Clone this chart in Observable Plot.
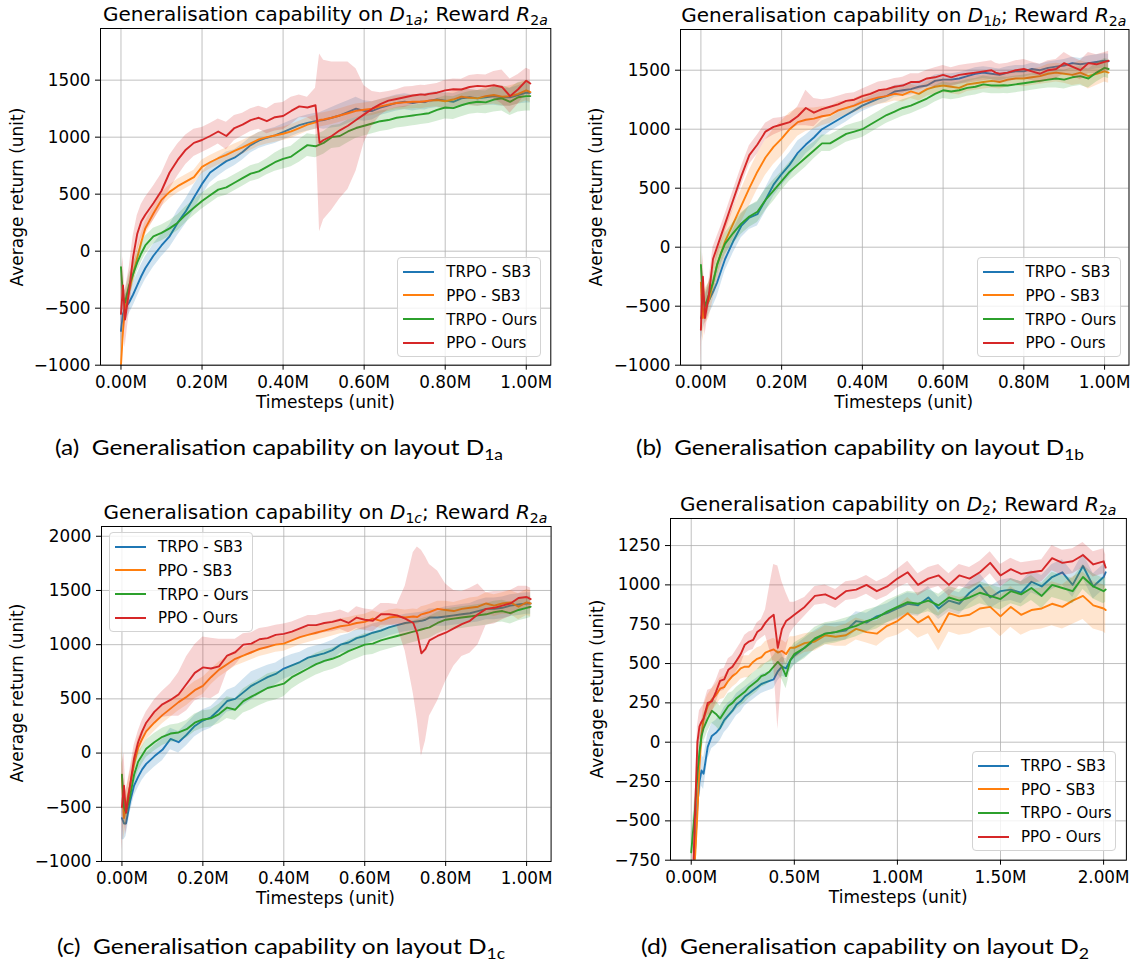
<!DOCTYPE html>
<html><head><meta charset="utf-8">
<script src="https://cdn.jsdelivr.net/npm/d3@7"></script>
<script src="https://cdn.jsdelivr.net/npm/@observablehq/plot@0.6"></script>
<style>
body{margin:0;background:#fff;}
#root{position:relative;width:1141px;height:963px;overflow:hidden;background:#fff;font-family:"DejaVu Sans",sans-serif;color:#000;}
.abs{position:absolute;white-space:nowrap;line-height:1;}
.ptitle{font-size:20px;transform:translate(-50%,-50%);}
.ptitle sub{font-size:14px;vertical-align:-4px;line-height:0;}
.xlab{font-size:17px;transform:translate(-50%,-50%);}
.ylab{font-size:17px;transform:translate(-50%,-50%) rotate(-90deg);}
.legend{border:1px solid #d3d3d3;border-radius:4px;background:rgba(255,255,255,0.8);box-sizing:border-box;}
.lgline{position:absolute;height:2px;width:31px;}
.lgtext{position:absolute;font-size:15px;transform:translateY(-50%);line-height:1;white-space:nowrap;}
.cap{font-family:Lato,"Noto Sans",sans-serif;font-size:21px;transform-origin:0 50%;}
.cap sub{font-size:15px;vertical-align:-5px;line-height:0;}
</style></head>
<body><div id="root"></div>
<script>
// ---------- series ----------
const seriesNames = ["TRPO - SB3", "PPO - SB3", "TRPO - Ours", "PPO - Ours"];
const seriesColors = ["#1f77b4", "#ff7f0e", "#2ca02c", "#d62728"];

// ---------- x values (millions of timesteps) ----------
const xABC = [0, 0.005, 0.01, 0.02, 0.03, 0.04, 0.05, 0.06,
 0.08, 0.10, 0.12, 0.14, 0.16, 0.18, 0.20, 0.22, 0.24, 0.26, 0.28, 0.30, 0.32, 0.34, 0.36, 0.38, 0.40, 0.42, 0.44, 0.46, 0.48,
 0.49,
 0.50, 0.52, 0.54, 0.56, 0.58, 0.60, 0.62, 0.64, 0.66, 0.68, 0.70, 0.72,
 0.73, 0.74, 0.75,
 0.76, 0.78, 0.80, 0.82, 0.84, 0.86, 0.88, 0.90, 0.92, 0.94, 0.96, 0.98, 1.00,
 1.01];
const xD = [0, 0.01, 0.02, 0.03, 0.04, 0.05, 0.06,
 0.08, 0.10, 0.12, 0.14, 0.16, 0.18, 0.20, 0.22, 0.24, 0.26, 0.28, 0.30, 0.32, 0.34, 0.36, 0.38, 0.40, 0.42, 0.44, 0.46, 0.48, 0.50,
 0.55, 0.60, 0.65, 0.70, 0.75, 0.80, 0.85, 0.90, 0.95, 1.00, 1.05, 1.10, 1.15, 1.20, 1.25, 1.30, 1.35, 1.40, 1.45, 1.50, 1.55, 1.60, 1.65, 1.70, 1.75, 1.80, 1.85, 1.90, 1.95, 2.00,
 2.01];

// ---------- panel (a): D1a ----------
const a_trpoSB3 = [-700, -550, -500, -450, -380, -300, -220, -150,
 -40, 50, 130, 250, 350, 470, 590, 690, 740, 790, 820, 870, 930, 970, 995, 1015, 1045, 1075, 1105, 1125, 1140,
 1145,
 1150, 1170, 1190, 1220, 1250, 1230, 1230, 1260, 1280, 1300, 1310, 1300,
 1305, 1310, 1308,
 1320, 1330, 1320, 1310, 1340, 1350, 1340, 1350, 1360, 1350, 1350, 1370, 1390,
 1390];
const a_trpoSB3_sd = [200, 150, 120, 100, 100, 100, 100, 100,
 100, 100, 100, 110, 110, 110, 100, 90, 80, 80, 70, 70, 70, 70, 70, 70, 70, 70, 70, 70, 70,
 70,
 80, 90, 100, 100, 100, 90, 80, 70, 70, 70, 70, 70,
 70, 70, 70,
 70, 70, 70, 70, 70, 70, 70, 70, 80, 80, 80, 80, 90,
 90];
const a_ppoSB3 = [-1000, -700, -500, -350, -200, -60, 80, 200,
 330, 450, 520, 570, 610, 650, 740, 780, 815, 845, 880, 910, 945, 980, 1000, 1015, 1030, 1050, 1080, 1110, 1130,
 1150,
 1155, 1170, 1190, 1210, 1230, 1240, 1250, 1270, 1285, 1300, 1305, 1310,
 1312, 1310, 1315,
 1320, 1326, 1315, 1330, 1355, 1345, 1340, 1360, 1370, 1355, 1360, 1380, 1410,
 1395];
const a_ppoSB3_sd = [150, 120, 100, 100, 90, 80, 70, 60,
 60, 60, 60, 60, 60, 60, 60, 60, 60, 60, 60, 60, 60, 60, 60, 60, 60, 60, 60, 60, 60,
 60,
 60, 60, 60, 60, 60, 60, 60, 60, 60, 60, 60, 60,
 60, 60, 60,
 60, 60, 70, 70, 70, 70, 70, 80, 80, 80, 90, 90, 90,
 90];
const a_trpoOurs = [-140, -400, -450, -300, -200, -100, -20, 50,
 130, 160, 200, 250, 320, 380, 440, 490, 540, 560, 600, 640, 680, 700, 740, 780, 810, 830, 880, 930, 920,
 935,
 950, 1000, 1010, 1050, 1080, 1100, 1120, 1140, 1150, 1170, 1180, 1190,
 1195, 1200, 1205,
 1210, 1240, 1260, 1255, 1280, 1300, 1310, 1305, 1330, 1340, 1310, 1350, 1360,
 1360];
const a_trpoOurs_sd = [150, 120, 100, 100, 90, 80, 80, 80,
 70, 70, 70, 70, 70, 70, 70, 70, 70, 70, 70, 70, 70, 70, 70, 80, 90, 90, 100, 100, 100,
 100,
 100, 100, 100, 100, 90, 90, 90, 90, 90, 90, 90, 90,
 90, 90, 90,
 90, 100, 100, 100, 100, 100, 100, 100, 110, 110, 120, 130, 130,
 130];
const a_ppoOurs = [-550, -300, -600, -350, -50, 150, 260, 320,
 420, 530, 690, 800, 890, 950, 975, 1010, 1050, 1010, 1080, 1110, 1150, 1170, 1140, 1175, 1185, 1230, 1270, 1260, 1280,
 950,
 975, 1010, 1060, 1100, 1150, 1200, 1250, 1290, 1320, 1335, 1350, 1365,
 1370, 1375, 1372,
 1380, 1390, 1410, 1420, 1418, 1440, 1450, 1445, 1455, 1440, 1360, 1420, 1495,
 1470];
const a_ppoOurs_sd = [300, 250, 250, 200, 180, 160, 150, 150,
 150, 150, 150, 140, 130, 120, 110, 110, 110, 120, 110, 100, 100, 100, 110, 120, 120, 120, 100, 90, 150,
 780,
 700, 650, 600, 560, 450, 250, 150, 100, 80, 80, 90, 80,
 80, 80, 80,
 80, 80, 90, 90, 90, 100, 100, 100, 120, 150, 150, 130, 110,
 120];

// ---------- panel (b): D1b ----------
const b_trpoSB3 = [-600, -550, -520, -450, -380, -300, -200, -100,
 50, 180, 250, 280, 400, 530, 620, 700, 800, 870, 930, 1000, 1040, 1080, 1120, 1160, 1200, 1230, 1260, 1280, 1320,
 1325,
 1330, 1340, 1360, 1370, 1410, 1420, 1420, 1430, 1450, 1470, 1480, 1470,
 1465, 1460, 1470,
 1480, 1490, 1490, 1510, 1500, 1520, 1530, 1540, 1560, 1550, 1560, 1570, 1580,
 1575];
const b_trpoSB3_sd = [200, 150, 120, 120, 120, 120, 110, 100,
 100, 100, 100, 100, 100, 100, 100, 100, 100, 80, 80, 70, 60, 60, 60, 50, 50, 50, 50, 50, 50,
 50,
 50, 50, 50, 50, 50, 50, 50, 50, 50, 50, 50, 50,
 50, 50, 50,
 50, 50, 50, 50, 50, 50, 50, 50, 50, 50, 60, 60, 60,
 60];
const b_ppoSB3 = [-300, -600, -500, -450, -300, -150, -50, 50,
 200, 350, 500, 640, 760, 850, 920, 1000, 1060, 1080, 1090, 1110, 1120, 1160, 1180, 1200, 1230, 1250, 1270, 1280, 1300,
 1295,
 1290, 1320, 1300, 1340, 1360, 1370, 1360, 1350, 1380, 1390, 1400, 1410,
 1405, 1400, 1410,
 1420, 1430, 1430, 1440, 1450, 1470, 1480, 1470, 1460, 1480, 1450, 1470, 1490,
 1480];
const b_ppoSB3_sd = [300, 200, 150, 150, 150, 150, 140, 130,
 130, 140, 150, 150, 150, 150, 150, 140, 120, 100, 90, 80, 70, 70, 60, 60, 60, 60, 60, 60, 60,
 60,
 60, 60, 60, 60, 60, 60, 60, 60, 60, 60, 60, 60,
 60, 60, 60,
 60, 60, 70, 70, 70, 80, 80, 80, 90, 100, 110, 100, 90,
 90];
const b_trpoOurs = [-150, -400, -500, -400, -300, -150, -50, 30,
 120, 200, 260, 300, 400, 480, 560, 640, 700, 760, 820, 880, 880, 920, 960, 980, 1000, 1040, 1080, 1120, 1150,
 1165,
 1180, 1200, 1230, 1260, 1300, 1330, 1320, 1330, 1350, 1360, 1380, 1370,
 1370, 1370, 1372,
 1370, 1380, 1390, 1400, 1410, 1420, 1430, 1420, 1440, 1450, 1430, 1480, 1520,
 1510];
const b_trpoOurs_sd = [200, 150, 120, 100, 100, 100, 90, 90,
 90, 90, 90, 90, 90, 90, 80, 80, 80, 80, 70, 70, 70, 70, 70, 70, 70, 70, 70, 70, 70,
 70,
 70, 70, 70, 70, 70, 70, 70, 70, 70, 70, 70, 70,
 70, 70, 70,
 70, 70, 70, 70, 70, 70, 80, 80, 80, 80, 80, 80, 80,
 80];
const b_ppoOurs = [-700, -250, -600, -400, -100, 0, 100, 200,
 400, 600, 780, 870, 980, 1020, 1040, 1060, 1110, 1180, 1140, 1170, 1190, 1210, 1240, 1250, 1280, 1300, 1330, 1340, 1360,
 1365,
 1370, 1400, 1400, 1430, 1440, 1460, 1440, 1460, 1470, 1480, 1490, 1500,
 1480, 1470, 1475,
 1480, 1500, 1510, 1490, 1470, 1500, 1510, 1560, 1530, 1500, 1560, 1550, 1570,
 1580];
const b_ppoOurs_sd = [300, 200, 150, 120, 100, 90, 80, 80,
 80, 80, 80, 80, 70, 70, 60, 60, 80, 150, 120, 80, 70, 70, 60, 60, 60, 70, 70, 70, 70,
 70,
 70, 70, 70, 70, 80, 80, 80, 80, 80, 80, 80, 80,
 80, 80, 80,
 80, 80, 80, 80, 80, 80, 80, 90, 80, 80, 90, 80, 80,
 80];

// ---------- panel (c): D1c ----------
const c_trpoSB3 = [-600, -650, -650, -450, -300, -220, -150, -100,
 -30, 30, 130, 100, 170, 250, 300, 330, 400, 480, 500, 560, 620, 660, 700, 730, 780, 810, 840, 880, 900,
 910,
 920, 950, 1000, 1020, 1060, 1080, 1110, 1130, 1160, 1180, 1200, 1210,
 1215, 1220, 1230,
 1250, 1250, 1260, 1270, 1280, 1290, 1310, 1330, 1330, 1340, 1360, 1370, 1380,
 1380];
const c_trpoSB3_sd = [200, 150, 120, 100, 100, 100, 100, 100,
 100, 100, 100, 100, 100, 100, 100, 100, 100, 100, 110, 120, 130, 120, 110, 100, 100, 100, 90, 90, 90,
 90,
 90, 90, 80, 80, 80, 80, 80, 80, 80, 80, 80, 80,
 80, 80, 80,
 80, 80, 90, 90, 90, 90, 100, 100, 100, 100, 100, 100, 100,
 100];
const c_ppoSB3 = [-200, -600, -500, -300, -100, 50, 130, 200,
 280, 350, 410, 470, 520, 580, 620, 700, 770, 820, 870, 900, 930, 960, 980, 1000, 1010, 1040, 1070, 1090, 1110,
 1120,
 1130, 1150, 1170, 1180, 1200, 1210, 1240, 1220, 1250, 1260, 1250, 1260,
 1255, 1280, 1290,
 1300, 1330, 1320, 1310, 1330, 1340, 1350, 1380, 1360, 1380, 1390, 1350, 1390,
 1380];
const c_ppoSB3_sd = [300, 200, 150, 120, 100, 90, 80, 80,
 80, 80, 80, 80, 80, 80, 80, 70, 70, 70, 70, 70, 70, 70, 70, 70, 70, 70, 70, 70, 70,
 70,
 70, 70, 70, 70, 70, 70, 70, 70, 70, 70, 70, 70,
 70, 70, 70,
 70, 70, 80, 80, 80, 90, 90, 100, 100, 100, 110, 120, 120,
 120];
const c_trpoOurs = [-200, -500, -550, -400, -200, -80, -20, 40,
 100, 150, 180, 190, 220, 280, 310, 320, 360, 420, 400, 480, 520, 560, 600, 620, 640, 700, 740, 780, 820,
 835,
 850, 870, 900, 940, 970, 1000, 1010, 1040, 1060, 1080, 1100, 1120,
 1130, 1140, 1150,
 1160, 1200, 1230, 1240, 1250, 1260, 1270, 1280, 1300, 1310, 1290, 1320, 1340,
 1350];
const c_trpoOurs_sd = [200, 150, 120, 100, 100, 90, 80, 80,
 80, 80, 80, 80, 80, 80, 80, 80, 90, 100, 100, 110, 120, 120, 130, 130, 120, 110, 100, 100, 100,
 100,
 100, 100, 100, 100, 100, 100, 100, 100, 100, 100, 100, 100,
 100, 100, 100,
 100, 100, 100, 100, 100, 100, 100, 100, 100, 100, 100, 100, 100,
 100];
const c_ppoOurs = [-500, -300, -550, -300, -50, 100, 200, 280,
 380, 450, 490, 540, 640, 740, 790, 780, 800, 900, 930, 1000, 1010, 1050, 1060, 1090, 1100, 1120, 1150, 1180, 1180,
 1190,
 1200, 1210, 1230, 1200, 1250, 1230, 1220, 1280, 1280, 1270, 1240, 1200,
 1100, 920, 960,
 1040, 1080, 1110, 1150, 1190, 1220, 1280, 1330, 1340, 1360, 1380, 1430, 1440,
 1420];
const c_ppoOurs_sd = [400, 300, 200, 150, 120, 100, 100, 100,
 110, 120, 150, 200, 250, 260, 280, 280, 250, 150, 120, 100, 100, 100, 100, 90, 90, 90, 90, 90, 90,
 90,
 90, 90, 90, 90, 100, 100, 100, 100, 100, 100, 300, 650,
 800, 950, 850,
 700, 600, 450, 350, 300, 300, 280, 150, 150, 130, 120, 110, 100,
 100];

// ---------- panel (d): D2 ----------
const d_trpoSB3 = [-1000, -900, -650, -400, -250, -180, -200,
 -30, 40, 60, 90, 140, 170, 200, 240, 260, 290, 310, 330, 350, 370, 380, 390, 400, 450, 480, 470, 520, 550,
 600, 650, 690, 700, 710, 770, 760, 800, 820, 850, 880, 870, 920, 850, 900, 880, 950, 1000, 920, 960, 970, 950, 1020, 990, 1050, 1080, 1000, 1120, 990, 1050,
 1080];
const d_trpoSB3_sd = [100, 100, 100, 100, 100, 100, 100,
 80, 80, 80, 80, 80, 80, 70, 70, 70, 60, 60, 60, 60, 60, 60, 60, 60, 60, 60, 60, 60, 60,
 60, 60, 60, 60, 60, 60, 60, 60, 60, 70, 70, 70, 70, 70, 70, 70, 70, 70, 70, 70, 70, 70, 70, 70, 80, 80, 80, 80, 80, 80,
 80];
const d_ppoSB3 = [-1000, -900, -700, -450, -150, 50, 150,
 230, 270, 300, 340, 350, 390, 420, 440, 470, 480, 480, 510, 530, 540, 570, 580, 590, 570, 580, 560, 600, 600,
 630, 640, 680, 670, 680, 720, 700, 690, 740, 770, 820, 760, 800, 700, 820, 800, 810, 850, 860, 800, 860, 810, 840, 850, 880, 860, 900, 930, 870, 850,
 840];
const d_ppoSB3_sd = [100, 100, 100, 100, 90, 80, 80,
 70, 70, 70, 70, 70, 70, 70, 70, 70, 70, 70, 70, 70, 70, 70, 70, 70, 70, 70, 70, 70, 70,
 60, 60, 60, 60, 70, 70, 70, 80, 80, 90, 100, 100, 110, 120, 120, 120, 120, 130, 130, 130, 130, 130, 130, 130, 140, 140, 150, 150, 150, 150,
 150];
const d_trpoOurs = [-700, -550, -400, -200, -60, 40, 90,
 150, 200, 180, 150, 190, 230, 250, 280, 300, 320, 350, 370, 390, 420, 430, 450, 480, 510, 480, 420, 520, 560,
 600, 660, 690, 700, 720, 740, 770, 790, 830, 860, 890, 880, 900, 870, 920, 900, 920, 950, 930, 910, 960, 940, 980, 930, 1000, 980, 960, 1050, 990, 960,
 970];
const d_trpoOurs_sd = [120, 100, 100, 100, 100, 90, 90,
 80, 80, 80, 80, 80, 80, 70, 70, 70, 70, 70, 70, 70, 70, 70, 70, 70, 80, 80, 80, 70, 70,
 70, 70, 70, 70, 70, 70, 70, 70, 70, 70, 70, 70, 70, 70, 70, 70, 70, 70, 70, 70, 80, 80, 80, 80, 80, 80, 80, 80, 80, 80,
 80];
const d_ppoOurs = [-1000, -800, -400, 0, 100, 130, 150,
 250, 260, 320, 390, 400, 460, 480, 520, 560, 620, 640, 650, 700, 720, 760, 790, 810, 600, 720, 770, 790, 810,
 860, 930, 940, 910, 960, 970, 1000, 960, 990, 1040, 1080, 1000, 1040, 1060, 1000, 1060, 1040, 1080, 1140, 1060, 1100, 1070, 1080, 1090, 1170, 1140, 1150, 1190, 1130, 1150,
 1110];
const d_ppoOurs_sd = [100, 100, 100, 100, 100, 90, 90,
 80, 80, 70, 70, 70, 70, 70, 70, 70, 60, 60, 60, 60, 60, 80, 200, 320, 520, 300, 180, 100, 80,
 60, 60, 60, 60, 60, 60, 60, 60, 60, 60, 70, 70, 70, 70, 70, 70, 70, 70, 70, 70, 70, 70, 70, 70, 80, 80, 80, 80, 80, 80,
 80];

// ---------- tick values ----------
const xTicksABC = [0, 0.2, 0.4, 0.6, 0.8, 1.0];
const xTicksD = [0, 0.5, 1.0, 1.5, 2.0];
const yTicksAB = [-1000, -500, 0, 500, 1000, 1500];
const yTicksC = [-1000, -500, 0, 500, 1000, 1500, 2000];
const yTicksD = [-750, -500, -250, 0, 250, 500, 750, 1000, 1250];

// ---------- labels ----------
const layoutSubs = ["1a", "1b", "1c", "2"];
const panelLetters = ["a", "b", "c", "d"];
const xLabel = "Timesteps (unit)";
const yLabel = "Average return (unit)";

// ---------- layout (pixel geometry of each axes box) ----------
const panels = [
  {L: 100.2, R: 550.5, T: 28.3, B: 365, xDomain: [-0.0505, 1.0605], yDomain: [-1000, 1953], x: xABC, xTicks: xTicksABC, yTicks: yTicksAB,
   data: [[a_trpoSB3, a_trpoSB3_sd], [a_ppoSB3, a_ppoSB3_sd], [a_trpoOurs, a_trpoOurs_sd], [a_ppoOurs, a_ppoOurs_sd]],
   ylabX: 16.5, legend: {x: 397.3, y: 257.3}, capX: 55, capY: 446},
  {L: 679.5, R: 1128, T: 29.3, B: 365, xDomain: [-0.0505, 1.0605], yDomain: [-1000, 1845], x: xABC, xTicks: xTicksABC, yTicks: yTicksAB,
   data: [[b_trpoSB3, b_trpoSB3_sd], [b_ppoSB3, b_ppoSB3_sd], [b_trpoOurs, b_trpoOurs_sd], [b_ppoOurs, b_ppoOurs_sd]],
   ylabX: 595.5, legend: {x: 976.5, y: 257.3}, capX: 636, capY: 446},
  {L: 100.6, R: 550.2, T: 525.7, B: 860.7, xDomain: [-0.0505, 1.0605], yDomain: [-1000, 2090], x: xABC, xTicks: xTicksABC, yTicks: yTicksC,
   data: [[c_trpoSB3, c_trpoSB3_sd], [c_ppoSB3, c_ppoSB3_sd], [c_trpoOurs, c_trpoOurs_sd], [c_ppoOurs, c_ppoOurs_sd]],
   ylabX: 16.5, legend: {x: 109, y: 532.3}, capX: 57, capY: 945},
  {L: 670.3, R: 1126.2, T: 518.3, B: 860, xDomain: [-0.1005, 2.1105], yDomain: [-750, 1422], x: xD, xTicks: xTicksD, yTicks: yTicksD,
   data: [[d_trpoSB3, d_trpoSB3_sd], [d_ppoSB3, d_ppoSB3_sd], [d_trpoOurs, d_trpoOurs_sd], [d_ppoOurs, d_ppoOurs_sd]],
   ylabX: 597, legend: {x: 972, y: 751}, capX: 641, capY: 945}
];

const root = document.getElementById("root");
function el(cls, html, left, top) {
  const d = document.createElement("div");
  d.className = "abs " + cls;
  d.innerHTML = html;
  d.style.left = left + "px";
  d.style.top = top + "px";
  root.append(d);
  return d;
}
const minus = v => v < 0 ? "\u2212" + Math.abs(v) : String(v);

panels.forEach((p, k) => {
  const mL = 90, mR = 20, mT = 10, mB = 45;
  const w = p.R - p.L + mL + mR, h = p.B - p.T + mT + mB;
  const marks = [
    Plot.gridX(p.xTicks, {stroke: "#b0b0b0", strokeOpacity: 1, strokeWidth: 0.8}),
    Plot.gridY(p.yTicks, {stroke: "#b0b0b0", strokeOpacity: 1, strokeWidth: 0.8})
  ];
  p.data.forEach(([mean, sd], i) => {
    const rows = p.x.map((x, j) => ({x, y: mean[j], lo: mean[j] - sd[j], hi: mean[j] + sd[j]}));
    marks.push(Plot.areaY(rows, {x: "x", y1: "lo", y2: "hi", fill: seriesColors[i], fillOpacity: 0.2, clip: true}));
    marks.push(Plot.lineY(rows, {x: "x", y: "y", stroke: seriesColors[i], strokeWidth: 1.9, clip: true}));
  });
  marks.push(Plot.frame({stroke: "#000", strokeWidth: 1}));
  marks.push(Plot.axisX(p.xTicks, {tickFormat: d => d.toFixed(2) + "M", tickSize: 5, tickPadding: 6, fontSize: 16.8, label: null}));
  marks.push(Plot.axisY(p.yTicks, {tickFormat: minus, tickSize: 5, tickPadding: 5, fontSize: 16.8, label: null}));
  const svg = Plot.plot({
    width: w, height: h, marginLeft: mL, marginRight: mR, marginTop: mT, marginBottom: mB,
    x: {domain: p.xDomain, label: null}, y: {domain: p.yDomain, label: null},
    style: {fontFamily: "DejaVu Sans", fontSize: "16.8px", background: "transparent", overflow: "visible", color: "#000"},
    marks
  });
  svg.style.position = "absolute";
  svg.style.left = (p.L - mL) + "px";
  svg.style.top = (p.T - mT) + "px";
  root.append(svg);

  const cx = (p.L + p.R) / 2, cy = (p.T + p.B) / 2;
  el("ptitle", "Generalisation capability on <i>D</i><sub>" + layoutSubs[k].replace(/([a-z])/, "<i>$1</i>") + "</sub>; Reward <i>R</i><sub>2<i>a</i></sub>", cx, p.T - 14);
  el("xlab", xLabel, cx, p.B + 37);
  el("ylab", yLabel, p.ylabX, cy);

  const lg = el("legend", "", p.legend.x, p.legend.y);
  lg.style.width = "144px"; lg.style.height = "100px";
  seriesNames.forEach((name, i) => {
    const ln = document.createElement("div");
    ln.className = "lgline";
    ln.style.background = seriesColors[i];
    ln.style.left = "5px"; ln.style.top = (12.5 + i * 23.7) + "px";
    lg.append(ln);
    const t = document.createElement("div");
    t.className = "lgtext";
    t.textContent = name;
    t.style.left = "48px"; t.style.top = (14 + i * 23.7) + "px";
    lg.append(t);
  });

  const cap = el("cap", "(" + panelLetters[k] + ")&nbsp; Generalisation capability on layout D<sub>" + layoutSubs[k] + "</sub>", p.capX, p.capY);
  const wNow = cap.getBoundingClientRect().width;
  cap.style.transform = "translateY(-50%) scaleX(" + (448 / wNow) + ")";
});
</script>
</body></html>
